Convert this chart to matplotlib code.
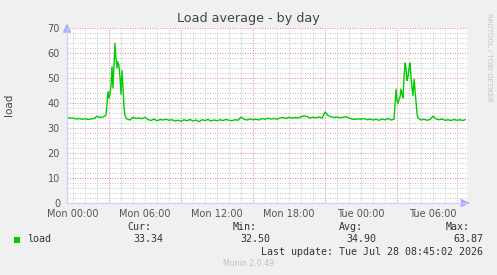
import matplotlib
matplotlib.use("Agg")
import matplotlib.pyplot as plt
from matplotlib.ticker import MultipleLocator, FixedLocator

# hours relative to Mon 00:00, load values
hours = [
    -0.5, -0.25, 0.0, 0.25, 0.5, 0.75, 1.0, 1.25, 1.5, 1.75, 2.0, 2.25, 2.5, 2.75,
    2.92, 3.0, 3.08, 3.17, 3.25, 3.33, 3.42, 3.5, 3.58, 3.67, 3.75, 3.83, 3.92,
    4.0, 4.08, 4.17, 4.25, 4.33, 4.42,
    4.5, 4.75, 5.0, 5.25, 5.5, 5.75, 6.0, 6.25, 6.5, 6.75, 7.0, 7.25, 7.5, 7.75,
    8.0, 8.25, 8.5, 8.75, 9.0, 9.25, 9.5, 9.75, 10.0, 10.25, 10.5, 10.75,
    11.0, 11.25, 11.5, 11.75, 12.0, 12.25, 12.5, 12.75, 13.0, 13.25, 13.5, 13.75,
    14.0, 14.25, 14.5, 14.75, 15.0, 15.25, 15.5, 15.75, 16.0, 16.25, 16.5, 16.75,
    17.0, 17.25, 17.5, 17.75, 18.0, 18.25, 18.5, 18.75, 19.0, 19.25, 19.5, 19.75,
    20.0, 20.25, 20.5, 20.75, 21.0, 21.25, 21.5, 21.75, 22.0, 22.25, 22.5, 22.75,
    23.0, 23.25, 23.5, 23.75, 24.0, 24.25, 24.5, 24.75, 25.0, 25.25, 25.5, 25.75,
    26.0, 26.25, 26.5, 26.75,
    26.92, 27.0, 27.08, 27.17, 27.25, 27.33, 27.42, 27.5, 27.58, 27.67, 27.75,
    27.83, 27.92, 28.0, 28.08, 28.17, 28.25, 28.33, 28.42, 28.5, 28.58, 28.67, 28.75,
    29.0, 29.25, 29.5, 29.75, 30.0, 30.25, 30.5, 30.75, 31.0, 31.25, 31.5, 31.75,
    32.0, 32.25, 32.5, 32.67,
]
load = [
    34.3, 33.9, 34.0, 33.6, 33.8, 33.5, 33.7, 33.4, 33.6, 33.8, 34.7, 34.2, 34.4, 35.1,
    44.5, 42.0, 43.5, 47.0, 54.5, 46.0, 55.0, 63.87, 58.0, 54.0, 56.5, 55.0, 50.0,
    43.5, 53.0, 46.0, 38.5, 35.0, 34.0,
    33.6, 33.2, 34.3, 33.8, 34.0, 33.7, 34.3, 33.4, 33.0, 33.6, 32.9, 33.4, 33.2, 33.5,
    33.1, 33.3, 32.8, 33.1, 32.7, 33.3, 32.9, 33.4, 32.8, 33.2, 32.5, 33.3,
    33.0, 33.4, 32.8, 33.2, 32.9, 33.3, 33.0, 33.4, 33.1, 32.9, 33.3, 33.1,
    34.4, 33.5, 33.2, 33.6, 33.3, 33.5, 33.2, 33.8, 33.5, 33.9, 33.6, 33.8,
    33.5, 34.0, 34.2, 33.8, 34.3, 33.9, 34.2, 34.0, 34.5, 34.9, 34.6, 34.0,
    34.3, 34.1, 34.4, 34.0, 36.4, 35.0, 34.5, 34.2, 34.4, 34.1, 34.3, 34.5,
    34.0, 33.6, 33.4, 33.7, 33.5, 33.8, 33.3, 33.6, 33.2, 33.5, 33.1, 33.6,
    33.3, 33.8, 33.2, 33.5,
    45.5, 41.0, 39.8, 41.5, 42.5, 45.5, 43.5, 42.0, 50.0, 56.0, 54.0,
    49.0, 50.5, 54.0, 56.0, 50.0, 46.0, 43.0, 49.5, 45.0, 40.0, 35.5, 34.0,
    33.2, 33.5, 33.1, 33.4, 34.7, 33.6, 33.3, 33.6, 33.1, 33.3, 33.0, 33.4,
    33.1, 33.3, 33.0, 33.34,
]

x_ticks = [0, 6, 12, 18, 24, 30]
x_labels = ["Mon 00:00", "Mon 06:00", "Mon 12:00", "Mon 18:00", "Tue 00:00", "Tue 06:00"]
major_x = [3, 9, 15, 21, 27]

stat_names = ["Cur:", "Min:", "Avg:", "Max:"]
stat_values = ["33.34", "32.50", "34.90", "63.87"]

W, H = 497, 275
fig = plt.figure(figsize=(W / 100, H / 100), dpi=100, facecolor="#f0f0f0")
ax = fig.add_axes([67 / W, 72 / H, 400 / W, 175 / H])
ax.set_facecolor("white")

x0, x1 = -0.5, 32.83
ax.set_xlim(x0, x1)
ax.set_ylim(0, 70)

# grid, drawn by hand so the major/minor styles match rrdtool
minor_kw = dict(color="#c8c8c8", lw=0.75, ls=(0, (1, 1.4)), zorder=1)
major_kw = dict(color="#e89090", lw=0.75, ls=(0, (1, 1.4)), zorder=1.5)
for h in range(0, 33):
    if h not in major_x:
        ax.axvline(h, **minor_kw)
for yv in range(2, 71, 2):
    if yv % 10:
        ax.axhline(yv, **minor_kw)
for h in major_x:
    ax.axvline(h, **major_kw)
for yv in range(10, 71, 10):
    ax.axhline(yv, **major_kw)

ax.plot(hours, load, color="#00cc00", lw=1.0, zorder=3)

for s in ["top", "right"]:
    ax.spines[s].set_visible(False)
for s in ["left", "bottom"]:
    ax.spines[s].set_color("#ccccff")
    ax.spines[s].set_linewidth(0.9)
    ax.spines[s].set_zorder(4)

ax.xaxis.set_major_locator(FixedLocator(x_ticks))
ax.set_xticklabels(x_labels)
ax.yaxis.set_major_locator(MultipleLocator(10))
ax.tick_params(length=0, labelsize=7, labelcolor="#555555")
ax.tick_params(axis="y", pad=5)
ax.tick_params(axis="x", pad=4)

# axis arrows
ax.annotate("", xy=(x1 + 0.45, 0), xytext=(x1 - 0.1, 0), xycoords="data",
            arrowprops=dict(arrowstyle="-|>,head_length=0.5,head_width=0.25",
                            color="#aaaaff", lw=0.9), annotation_clip=False)
ax.annotate("", xy=(x0, 72.8), xytext=(x0, 69.5), xycoords="data",
            arrowprops=dict(arrowstyle="-|>,head_length=0.5,head_width=0.25",
                            color="#aaaaff", lw=0.9), annotation_clip=False)


def px(x, y):
    return x / W, 1 - y / H


fig.text(*px(248, 18.5), "Load average - by day", ha="center", va="center",
         fontsize=9.2, color="#444444")
fig.text(*px(9, 105), "load", ha="center", va="center", rotation=90,
         fontsize=7.5, color="#444444")
fig.text(*px(489, 57), "RRDTOOL / TOBI OETIKER", ha="center", va="center",
         rotation=270, fontsize=5.0, color="#c4c4c4")

mono = dict(family="DejaVu Sans Mono", fontsize=7.2, color="#333333", va="center")
name_right = [151, 257, 363, 470]
value_right = [163, 270, 376, 483]
for nm, xr in zip(stat_names, name_right):
    fig.text(*px(xr, 227), nm, ha="right", **mono)
for v, xr in zip(stat_values, value_right):
    fig.text(*px(xr, 239.5), v, ha="right", **mono)

fig.patches.append(plt.Rectangle(px(14, 243), 6 / W, 6 / H, transform=fig.transFigure,
                                 facecolor="#00cc00", edgecolor="none"))
fig.text(*px(27, 239.5), "load", ha="left", **mono)
fig.text(*px(483, 252), "Last update: Tue Jul 28 08:45:02 2026", ha="right", **mono)
fig.text(*px(249, 263.5), "Munin 2.0.49", ha="center", va="center",
         fontsize=5.6, color="#c0c0c0")

fig.savefig("out.png", dpi=100, facecolor=fig.get_facecolor())
